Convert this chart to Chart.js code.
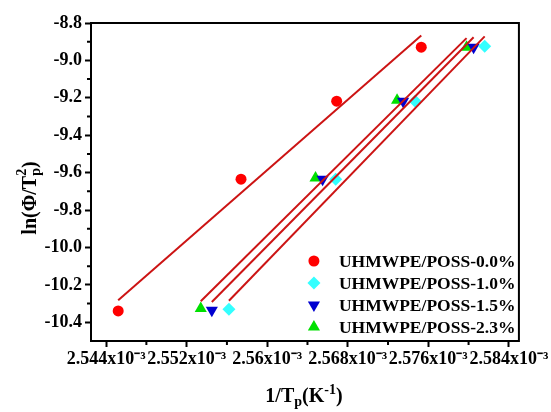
<!DOCTYPE html>
<html>
<head>
<meta charset="utf-8">
<script src="https://cdn.jsdelivr.net/npm/chart.js@4.4.1/dist/chart.umd.min.js"></script>
<style>
html, body { margin: 0; padding: 0; background: #fff; }
#wrap { width: 551px; height: 412px; }
</style>
</head>
<body>
<div id="wrap"><canvas id="kissinger"></canvas></div>
<script>
// series labels
var seriesNames = ['UHMWPE/POSS-0.0%', 'UHMWPE/POSS-1.0%', 'UHMWPE/POSS-1.5%', 'UHMWPE/POSS-2.3%'];

// 1/Tp (K^-1)
var invTp00 = [2.5452e-3, 2.5574e-3, 2.5669e-3, 2.5753e-3];
var invTp10 = [2.5562e-3, 2.5668e-3, 2.5747e-3, 2.5816e-3];
var invTp15 = [2.5545e-3, 2.5655e-3, 2.5735e-3, 2.5805e-3];
var invTp23 = [2.5534e-3, 2.5648e-3, 2.5729e-3, 2.5798e-3];

// ln(phi/Tp^2)
var lnPhi00 = [-10.339, -9.635, -9.218, -8.929];
var lnPhi10 = [-10.330, -9.635, -9.218, -8.924];
var lnPhi15 = [-10.335, -9.635, -9.218, -8.929];
var lnPhi23 = [-10.326, -9.629, -9.213, -8.929];

// axis ticks
var xTicks = [2.544e-3, 2.552e-3, 2.560e-3, 2.568e-3, 2.576e-3, 2.584e-3];
var xTickLabels = ['2.544x10⁻³', '2.552x10⁻³', '2.56x10⁻³', '2.568x10⁻³', '2.576x10⁻³', '2.584x10⁻³'];
var xMinorTicks = [2.548e-3, 2.556e-3, 2.564e-3, 2.572e-3, 2.580e-3];
var yTicks = [-8.8, -9.0, -9.2, -9.4, -9.6, -9.8, -10.0, -10.2, -10.4];
var yMinorTicks = [-8.9, -9.1, -9.3, -9.5, -9.7, -9.9, -10.1, -10.3];

var markerColors = ['#ff0000', '#33ffff', '#0000d0', '#00e000'];
var markerStyles = ['circle', 'rectRot', 'triangle', 'triangle'];
var markerRotation = [0, 0, 180, 0];
var markerRadius = [5.5, 6.5, 7, 7];

var serif = "'Liberation Serif', 'Times New Roman', serif";

//least squares line over the x range of the points
function fitLine(xs, ys) {
    var n = xs.length, mx = 0, my = 0;
    for (var i = 0; i < n; i++) { mx += xs[i]; my += ys[i]; }
    mx /= n; my /= n;
    var sxy = 0, sxx = 0;
    for (i = 0; i < n; i++) {
        sxy += (xs[i] - mx) * (ys[i] - my);
        sxx += (xs[i] - mx) * (xs[i] - mx);
    }
    var b = sxy / sxx;
    var x0 = Math.min.apply(null, xs), x1 = Math.max.apply(null, xs);
    return [{x: x0, y: my + b * (x0 - mx)}, {x: x1, y: my + b * (x1 - mx)}];
}

function toPoints(xs, ys) {
    return xs.map(function(v, i) { return {x: v, y: ys[i]}; });
}

var allX = [invTp00, invTp10, invTp15, invTp23];
var allY = [lnPhi00, lnPhi10, lnPhi15, lnPhi23];

var datasets = [];
for (var s = 0; s < 4; s++) {
    datasets.push({
        type: 'scatter',
        label: seriesNames[s],
        data: toPoints(allX[s], allY[s]),
        pointStyle: markerStyles[s],
        rotation: markerRotation[s],
        pointRadius: markerRadius[s],
        pointBackgroundColor: markerColors[s],
        pointBorderColor: markerColors[s],
        pointBorderWidth: 0,
        order: 1
    });
}
for (s = 0; s < 4; s++) {
    datasets.push({
        type: 'line',
        label: 'fit ' + seriesNames[s],
        data: fitLine(allX[s], allY[s]),
        borderColor: '#cc1414',
        borderWidth: 2,
        pointRadius: 0,
        fill: false,
        order: 0
    });
}

// text with sub / superscripts
function drawRich(ctx, parts, cx, cy, angle) {
    ctx.save();
    ctx.translate(cx, cy);
    ctx.rotate(angle);
    var w = 0;
    parts.forEach(function(p) {
        ctx.font = 'bold ' + p.size + 'px ' + serif;
        p.w = ctx.measureText(p.t).width;
        if (!p.stack) w += p.w;
    });
    var x = -w / 2;
    ctx.textBaseline = 'middle';
    ctx.textAlign = 'left';
    ctx.fillStyle = '#000';
    parts.forEach(function(p) {
        ctx.font = 'bold ' + p.size + 'px ' + serif;
        ctx.fillText(p.t, x, p.dy || 0);
        if (!p.stack) x += p.w;
    });
    ctx.restore();
}

var decorPlugin = {
    id: 'decor',
    afterDraw: function(chart) {
        var ctx = chart.ctx, a = chart.chartArea;
        var xs = chart.scales.x, ys = chart.scales.y;
        ctx.save();
        //frame
        ctx.strokeStyle = '#000';
        ctx.lineWidth = 2;
        ctx.strokeRect(a.left, a.top, a.right - a.left, a.bottom - a.top);
        //minor ticks
        ctx.beginPath();
        xMinorTicks.forEach(function(v) {
            var px = xs.getPixelForValue(v);
            ctx.moveTo(px, a.bottom);
            ctx.lineTo(px, a.bottom + 4);
        });
        yMinorTicks.forEach(function(v) {
            var py = ys.getPixelForValue(v);
            ctx.moveTo(a.left, py);
            ctx.lineTo(a.left - 4, py);
        });
        ctx.stroke();

        //legend inside the plot
        var mx = a.right - 205, tx = a.right - 180, y0 = a.bottom - 80;
        for (var i = 0; i < 4; i++) {
            var yy = y0 + i * 22;
            ctx.fillStyle = markerColors[i];
            ctx.strokeStyle = markerColors[i];
            Chart.helpers.drawPoint(ctx, {
                pointStyle: markerStyles[i],
                rotation: markerRotation[i],
                radius: markerRadius[i],
                borderWidth: 0
            }, mx, yy);
            ctx.fillStyle = '#000';
            ctx.font = 'bold 17.5px ' + serif;
            ctx.textBaseline = 'middle';
            ctx.textAlign = 'left';
            ctx.fillText(seriesNames[i], tx, yy + 1);
        }
        ctx.restore();

        //axis titles
        drawRich(ctx, [
            {t: '1/T', size: 20},
            {t: 'p', size: 14, dy: 5},
            {t: '(K', size: 20},
            {t: '-1', size: 14, dy: -7},
            {t: ')', size: 20}
        ], (a.left + a.right) / 2 - 1, 397, 0);
        drawRich(ctx, [
            {t: 'ln(Φ/T', size: 20},
            {t: '2', size: 14, dy: -9, stack: true},
            {t: 'p', size: 14, dy: 5},
            {t: ')', size: 20}
        ], 31, 198, -Math.PI / 2);
    }
};

var tickFont = { family: serif, size: 18, weight: 'bold' };

var ctx = document.getElementById('kissinger').getContext('2d');
var kissChart = new Chart(ctx, {
    data: { datasets: datasets },
    options: {
        responsive: true,
        maintainAspectRatio: false,
        animation: false,
        layout: { padding: { top: 23, right: 30, left: 0, bottom: 0 } },
        plugins: {
            legend: { display: false },
            tooltip: { enabled: false }
        },
        scales: {
            x: {
                type: 'linear',
                min: 2.5425e-3,
                max: 2.5850e-3,
                grid: { display: true, drawOnChartArea: false, drawTicks: true, tickLength: 6, tickColor: '#000', tickWidth: 2 },
                border: { display: true, color: '#000', width: 2 },
                ticks: {
                    autoSkip: false,
                    maxRotation: 0,
                    color: '#000',
                    font: tickFont,
                    padding: 2,
                    callback: function(v) {
                        var k = xTicks.findIndex(function(t) { return Math.abs(t - v) < 1e-9; });
                        return k >= 0 ? xTickLabels[k] : '';
                    }
                },
                afterBuildTicks: function(scale) {
                    scale.ticks = xTicks.map(function(v) { return {value: v}; });
                },
                afterFit: function(scale) { scale.height = 71; }
            },
            y: {
                type: 'linear',
                min: -10.5,
                max: -8.8,
                grid: { display: true, drawOnChartArea: false, drawTicks: true, tickLength: 6, tickColor: '#000', tickWidth: 2 },
                border: { display: true, color: '#000', width: 2 },
                ticks: {
                    color: '#000',
                    font: tickFont,
                    padding: 3,
                    callback: function(v) { return v.toFixed(1); }
                },
                afterBuildTicks: function(scale) {
                    scale.ticks = yTicks.map(function(v) { return {value: v}; });
                },
                afterFit: function(scale) { scale.width = 91; }
            }
        }
    },
    plugins: [decorPlugin]
});
</script>
</body>
</html>
